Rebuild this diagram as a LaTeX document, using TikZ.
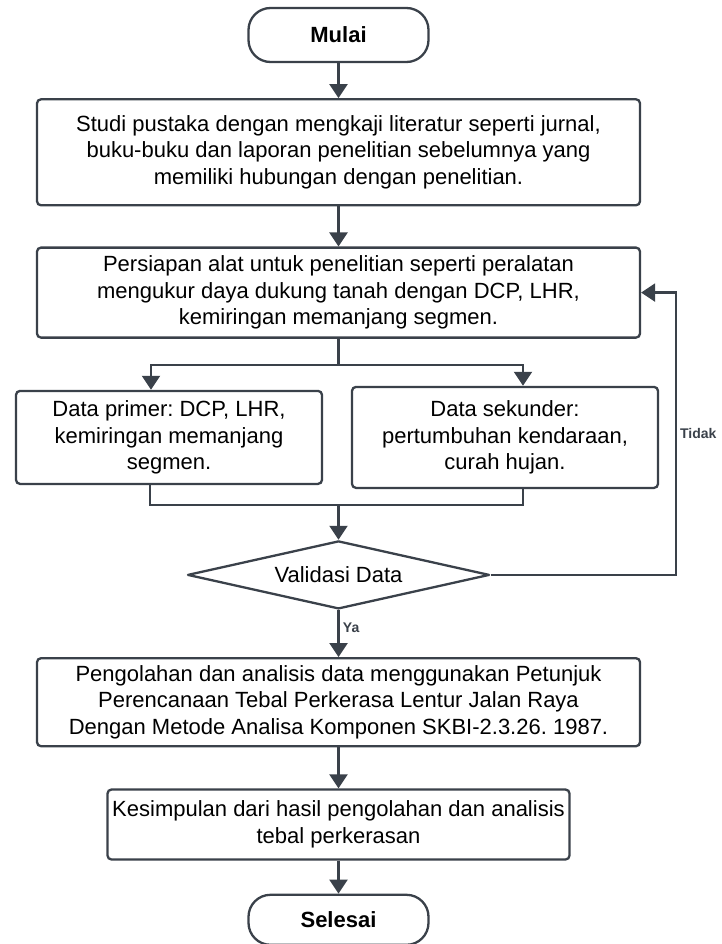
\documentclass[tikz,border=0pt]{standalone}
\usepackage{fontspec}
\setmainfont{Liberation Sans}
\usepackage{tikz}
\usetikzlibrary{
  shapes.geometric, arrows.meta, positioning, calc
}
\frenchspacing
\definecolor{garis}{HTML}{3A414A}
\newcommand{\teks}{\fontsize{22}{26.5}\selectfont}
\tikzstyle{startstop} = [rectangle, rounded corners=22pt, minimum width=180pt, minimum height=54pt, text centered, draw=garis, line width=2.3pt, font=\fontsize{22}{26}\selectfont\bfseries]
\tikzstyle{process}   = [rectangle, rounded corners=4pt,  minimum width=603pt, inner sep=0pt, text centered, align=center, draw=garis, line width=2.3pt, font=\teks]
\tikzstyle{decision}  = [diamond, aspect=4.4, minimum width=302pt, minimum height=68pt, inner sep=0pt, text centered, draw=garis, line width=2.3pt, line join=round, font=\teks]
\tikzstyle{arrow}     = [line width=2.3pt, draw=garis, -{Triangle[width=18pt,length=14pt]}]
\tikzstyle{garisan}   = [line width=2.3pt, draw=garis]
\tikzstyle{cabang}    = [font=\fontsize{14}{16}\selectfont\bfseries, text=garis]

\begin{document}
\begin{tikzpicture}[x=1pt, y=1pt, node distance=37pt,
    sisi/.style={process, minimum width=306pt}]
  \useasboundingbox (0,0) rectangle (722,-944);

  \node[startstop] (s0) at (338.5,-35) {Mulai};
  \node[process, minimum height=106pt, below=35pt of s0] (p1)
    {Studi pustaka dengan mengkaji literatur seperti jurnal,\\
     buku-buku dan laporan penelitian sebelumnya yang\\
     memiliki hubungan dengan penelitian.};
  \node[process, minimum height=90pt, below=40pt of p1] (p2)
    {Persiapan alat untuk penelitian seperti peralatan\\
     mengukur daya dukung tanah dengan DCP, LHR,\\
     kemiringan memanjang segmen.};
  \node[sisi, minimum height=93pt, below=51pt of p2, xshift=-169.5pt] (prim)
    {Data primer: DCP, LHR,\\ kemiringan memanjang\\ segmen.};
  \node[sisi, minimum height=101pt, below=47pt of p2, xshift=166.5pt] (sek)
    {Data sekunder:\\ pertumbuhan kendaraan,\\ curah hujan.};
  \node[decision, below=201pt of p2] (d1) {Validasi Data};
  \node[process, minimum height=88pt, below=47pt of d1] (p3)
    {Pengolahan dan analisis data menggunakan Petunjuk\\
     Perencanaan Tebal Perkerasa Lentur Jalan Raya\\
     Dengan Metode Analisa Komponen SKBI-2.3.26. 1987.};
  \node[process, minimum width=462pt, minimum height=70pt, below=41pt of p3] (p4)
    {Kesimpulan dari hasil pengolahan dan analisis\\ tebal perkerasan};
  \node[startstop, minimum height=50pt, below=33pt of p4] (s1) {Selesai};

  % cabang ke data primer / sekunder
  \coordinate (pin)  at ([xshift=-18pt]prim.north);
  \coordinate (sin)  at ([xshift=18pt]sek.north);
  \coordinate (pout) at ([xshift=-19pt]prim.south);
  \coordinate (sout) at ([xshift=18pt]sek.south);

  \draw[arrow] (s0) -- (p1);
  \draw[arrow] (p1) -- (p2);
  \draw[garisan] (p2.south) -- ++(0,-26) coordinate (bagi);
  \draw[arrow] (bagi) -| (pin);
  \draw[arrow] (bagi) -| (sin);
  \draw[garisan] (pout) -- ++(0,-20) coordinate (gabung) -| (sout);
  \draw[arrow] (gabung -| d1.north) -- (d1.north);
  \draw[arrow] (d1) -- node[cabang, right, pos=0.38] {Ya} (p3);
  \draw[arrow] (d1.east) -- ++(185,0) |- node[cabang, right, pos=0.25] {Tidak} (p2.east);
  \draw[arrow] (p3) -- (p4);
  \draw[arrow] (p4) -- (s1);
\end{tikzpicture}
\end{document}
